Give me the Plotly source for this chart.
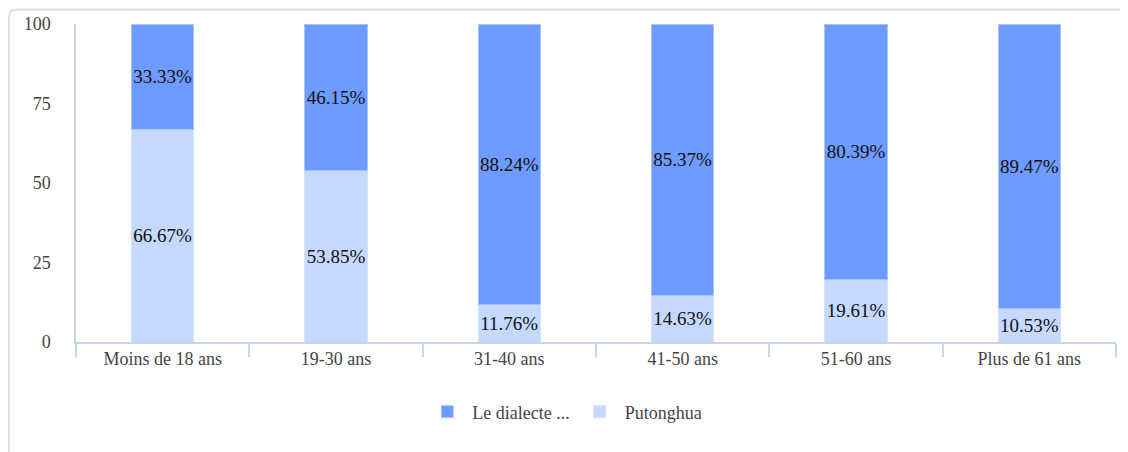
import plotly.graph_objects as go

categories = ["Moins de 18 ans", "19-30 ans", "31-40 ans", "41-50 ans", "51-60 ans", "Plus de 61 ans"]
dialecte = [33.33, 46.15, 88.24, 85.37, 80.39, 89.47]
putonghua = [66.67, 53.85, 11.76, 14.63, 19.61, 10.53]
y_ticks = [0, 25, 50, 75, 100]

# page body has an 8px margin, so the figure is drawn at (8, 8)
W, H = 1120, 444
L, R, T, B = 68, 12, 16, 110
pw, ph = W - L - R, H - T - B

DARK = "#6e9bff"
LIGHT = "#c5d8fe"
FONT = "Liberation Serif"

fig = go.Figure()
fig.add_trace(go.Bar(
    x=categories, y=putonghua, name="Putonghua",
    marker=dict(color=LIGHT, line=dict(color="#d6e3ff", width=1)),
    text=[f"{v:.2f}%" for v in putonghua], textposition="inside", textangle=0,
    insidetextanchor="middle", constraintext="none",
    textfont=dict(family=FONT, size=19, color="#111"),
    width=0.36,
))
fig.add_trace(go.Bar(
    x=categories, y=dialecte, name="Le dialecte ...",
    marker=dict(color=DARK, line=dict(color="#a9c3ff", width=1)),
    text=[f"{v:.2f}%" for v in dialecte], textposition="inside", textangle=0,
    insidetextanchor="middle", constraintext="none",
    textfont=dict(family=FONT, size=19, color="#111"),
    width=0.36,
))

# card border (rounded top-left corner), in paper coordinates
x0 = (1 - L) / pw
yt = 1 + (T - 1.5) / ph
rx = 8 / pw
ry = 8 / ph
x_end = (W + 20 - L) / pw
y_end = -(B + 20) / ph
path = (f"M {x0},{y_end} L {x0},{yt - ry} Q {x0},{yt} {x0 + rx},{yt} L {x_end},{yt}")
fig.add_shape(type="path", path=path, xref="paper", yref="paper",
              line=dict(color="#e0e0e0", width=2), layer="below")

fig.update_layout(
    width=W, height=H,
    margin=dict(l=L, r=R, t=T, b=B, autoexpand=False),
    paper_bgcolor="white", plot_bgcolor="white",
    barmode="stack",
    font=dict(family=FONT, size=18, color="#444"),
    showlegend=True,
    legend=dict(orientation="h", x=0.47, xanchor="center", y=-0.22, yanchor="middle",
                traceorder="reversed", font=dict(family=FONT, size=18, color="#444"),
                itemwidth=40),
    xaxis=dict(showline=True, linecolor="#c6d6ea", linewidth=1.5,
               ticks="outside", tickson="boundaries", ticklen=13, tickcolor="#c6d6ea",
               tickwidth=1.5, showgrid=False, tickfont=dict(family=FONT, size=18, color="#444")),
    yaxis=dict(range=[0, 100], tickvals=y_ticks, showline=True, linecolor="#c6d6ea",
               linewidth=1.5, showgrid=False, zeroline=False, ticks="",
               ticklabelstandoff=20, tickfont=dict(family=FONT, size=18, color="#444")),
)

fig.write_html("out.html")
